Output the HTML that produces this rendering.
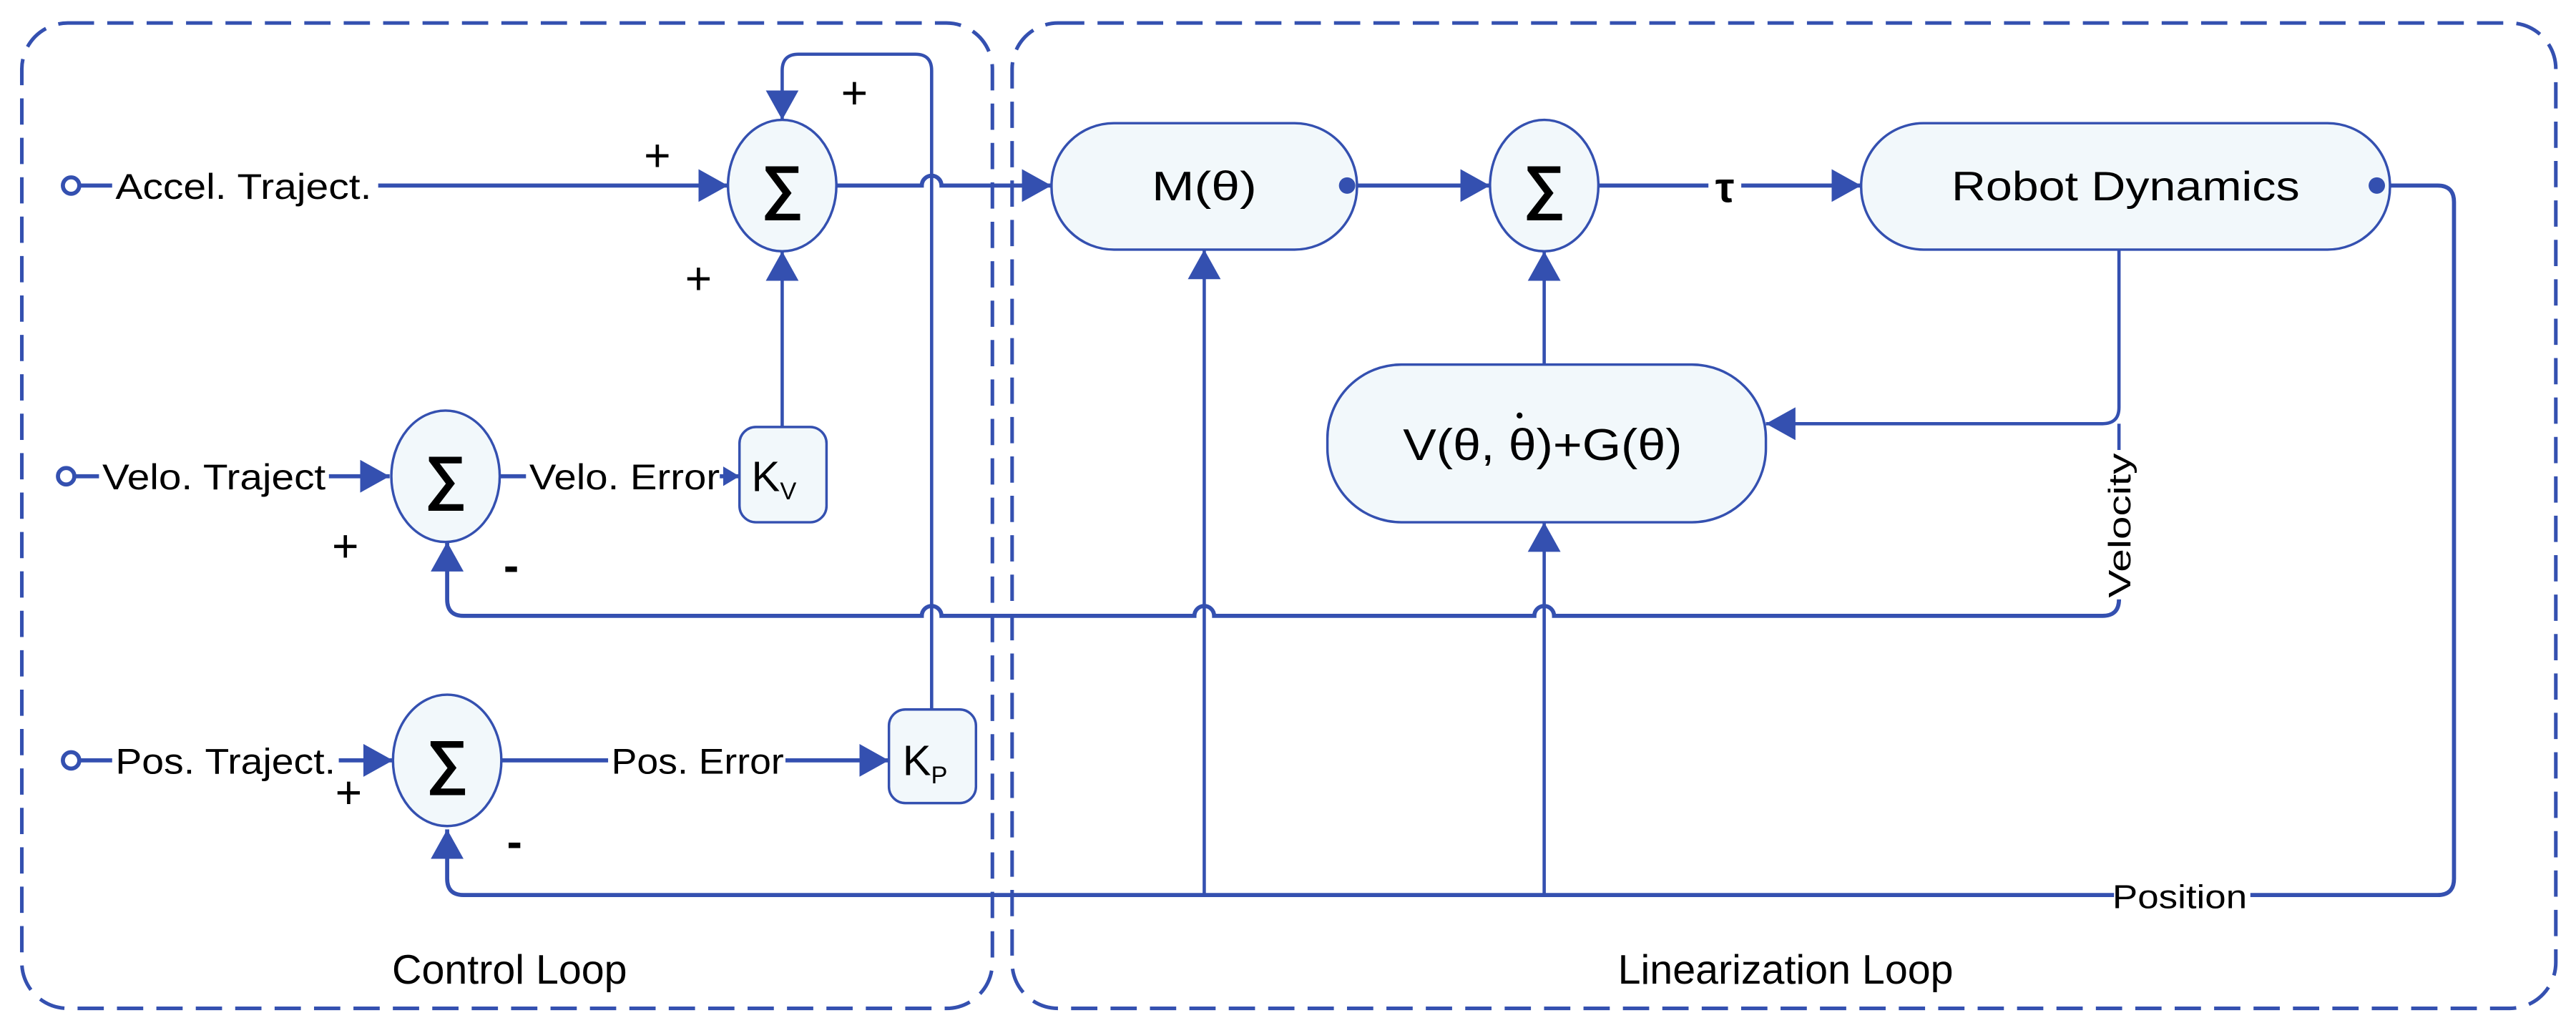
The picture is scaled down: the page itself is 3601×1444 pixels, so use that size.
<!DOCTYPE html>
<html><head><meta charset="utf-8"><style>html,body{margin:0;padding:0;background:#fff}svg{display:block}</style></head>
<body>
<svg width="3601" height="1444" viewBox="0 0 1568 629" xmlns="http://www.w3.org/2000/svg" font-family="Liberation Sans, sans-serif">
<defs>
<marker id="a" markerWidth="10" markerHeight="12" refX="10" refY="6" orient="auto" markerUnits="userSpaceOnUse">
<path d="M0,0 L10,6 L0,12 Z" fill="#3450B0"/></marker>
<marker id="A" markerWidth="18" markerHeight="20" refX="18" refY="10" orient="auto" markerUnits="userSpaceOnUse">
<path d="M0,0 L18,10 L0,20 Z" fill="#3450B0"/></marker>
</defs>
<g fill="none" stroke="#3450B0" stroke-width="2.2" stroke-dasharray="16,8">
<rect x="13" y="14" width="591" height="600" rx="28"/>
<rect x="616" y="14" width="940" height="600" rx="28"/>
</g>
<g fill="none" stroke="#3450B0" stroke-width="2.5">
<line x1="48" y1="113" x2="68" y2="113"/>
<line x1="230" y1="113" x2="443" y2="113" marker-end="url(#A)"/>
<path d="M509,113 H561 a6,6 0 0 1 12,0 H640" marker-end="url(#A)"/>
<path d="M567,432 V43 q0,-10 -10,-10 H486 q-10,0 -10,10 V73" stroke-width="2" marker-end="url(#A)"/>
<line x1="476" y1="260" x2="476" y2="153" stroke-width="2" marker-end="url(#A)"/>
<line x1="820" y1="113" x2="907" y2="113" marker-end="url(#A)"/>
<line x1="973" y1="113" x2="1040" y2="113"/>
<line x1="1060" y1="113" x2="1133" y2="113" marker-end="url(#A)"/>
<line x1="940" y1="222" x2="940" y2="153" stroke-width="2" marker-end="url(#A)"/>
<path d="M1447,113 H1484 q10,0 10,10 V535 q0,10 -10,10 H1370"/>
<path d="M1287,545 H282 q-10,0 -10,-10 V505" marker-end="url(#A)"/>
<path d="M733,545 V152" stroke-width="2" marker-end="url(#A)"/>
<path d="M940,545 V318" stroke-width="2" marker-end="url(#A)"/>
<path d="M1290,152 V248 q0,10 -10,10 H1075" stroke-width="2" marker-end="url(#A)"/>
<path d="M1290,258 V274" stroke-width="2"/>
<path d="M1290,366 V365 q0,10 -10,10 H946 a6,6 0 0 0 -12,0 H739 a6,6 0 0 0 -12,0 H573 a6,6 0 0 0 -12,0 H282 q-10,0 -10,-10 V330" marker-end="url(#A)"/>
<line x1="45" y1="290" x2="60" y2="290"/>
<line x1="200" y1="290" x2="237" y2="290" marker-end="url(#A)"/>
<line x1="304" y1="290" x2="320" y2="290"/>
<line x1="438" y1="290" x2="450" y2="290" marker-end="url(#a)"/>
<line x1="48" y1="463" x2="68" y2="463"/>
<line x1="206" y1="463" x2="239" y2="463" marker-end="url(#A)"/>
<line x1="305" y1="463" x2="370" y2="463"/>
<line x1="478" y1="463" x2="541" y2="463" marker-end="url(#A)"/>
</g>
<g fill="#fff" stroke="#3450B0" stroke-width="2.5">
<circle cx="43" cy="113" r="5"/><circle cx="40" cy="290" r="5"/><circle cx="43" cy="463" r="5"/>
</g>
<g fill="#F2F8FB" stroke="#3450B0" stroke-width="1.5">
<ellipse cx="476" cy="113" rx="33" ry="40"/>
<ellipse cx="940" cy="113" rx="33" ry="40"/>
<ellipse cx="271" cy="290" rx="33" ry="40"/>
<ellipse cx="272" cy="463" rx="33" ry="40"/>
<rect x="640" y="75" width="186" height="77" rx="38"/>
<rect x="1133" y="75" width="322" height="77" rx="38"/>
<rect x="808" y="222" width="267" height="96" rx="45"/>
<rect x="450" y="260" width="53" height="58" rx="10"/>
<rect x="541" y="432" width="53" height="57" rx="10"/>
</g>
<g fill="#3450B0"><circle cx="820" cy="113" r="5"/><circle cx="1447" cy="113" r="5"/></g>
<g fill="#000" font-size="22">
<text x="70" y="121" textLength="156" lengthAdjust="spacingAndGlyphs">Accel. Traject.</text>
<text x="62" y="298" textLength="136" lengthAdjust="spacingAndGlyphs">Velo. Traject</text>
<text x="70" y="471" textLength="134" lengthAdjust="spacingAndGlyphs">Pos. Traject.</text>
<text x="322" y="298" textLength="116" lengthAdjust="spacingAndGlyphs">Velo. Error</text>
<text x="372" y="471" textLength="105" lengthAdjust="spacingAndGlyphs">Pos. Error</text>
<text x="1327" y="553" text-anchor="middle" font-size="20" textLength="82" lengthAdjust="spacingAndGlyphs">Position</text>
<text transform="translate(1297,320) rotate(-90)" text-anchor="middle" font-size="19" textLength="88" lengthAdjust="spacingAndGlyphs">Velocity</text>
</g>
<g fill="#000" font-size="36" text-anchor="middle" font-weight="bold">
<text x="476" y="126">∑</text><text x="940" y="126">∑</text>
<text x="271" y="303">∑</text><text x="272" y="476">∑</text>
</g>
<g fill="#000" font-size="25" text-anchor="middle">
<text x="733" y="122" textLength="64" lengthAdjust="spacingAndGlyphs">M(θ)</text>
<text x="1294" y="122" textLength="212" lengthAdjust="spacingAndGlyphs">Robot Dynamics</text>
<text x="854" y="280" text-anchor="start" font-size="27" textLength="170" lengthAdjust="spacingAndGlyphs">V(θ, θ)+G(θ)</text>
<text x="1050" y="123" font-size="26" font-weight="bold">τ</text>
<text x="471" y="299" font-size="26">K<tspan font-size="15" dy="5">V</tspan></text>
<text x="563" y="472" font-size="26">K<tspan font-size="15" dy="5">P</tspan></text>
<text x="310" y="599" font-size="25">Control Loop</text>
<text x="1087" y="599" font-size="25">Linearization Loop</text>
</g>
<circle cx="925" cy="253" r="1.8" fill="#000"/>
<g fill="#000" font-size="28" text-anchor="middle">
<text x="400" y="104">+</text><text x="425" y="179">+</text><text x="520" y="66">+</text>
<text x="210" y="342">+</text><text x="212" y="492">+</text>
<text x="311" y="354" font-weight="bold">-</text><text x="313" y="522" font-weight="bold">-</text>
</g>
</svg>
</body></html>
